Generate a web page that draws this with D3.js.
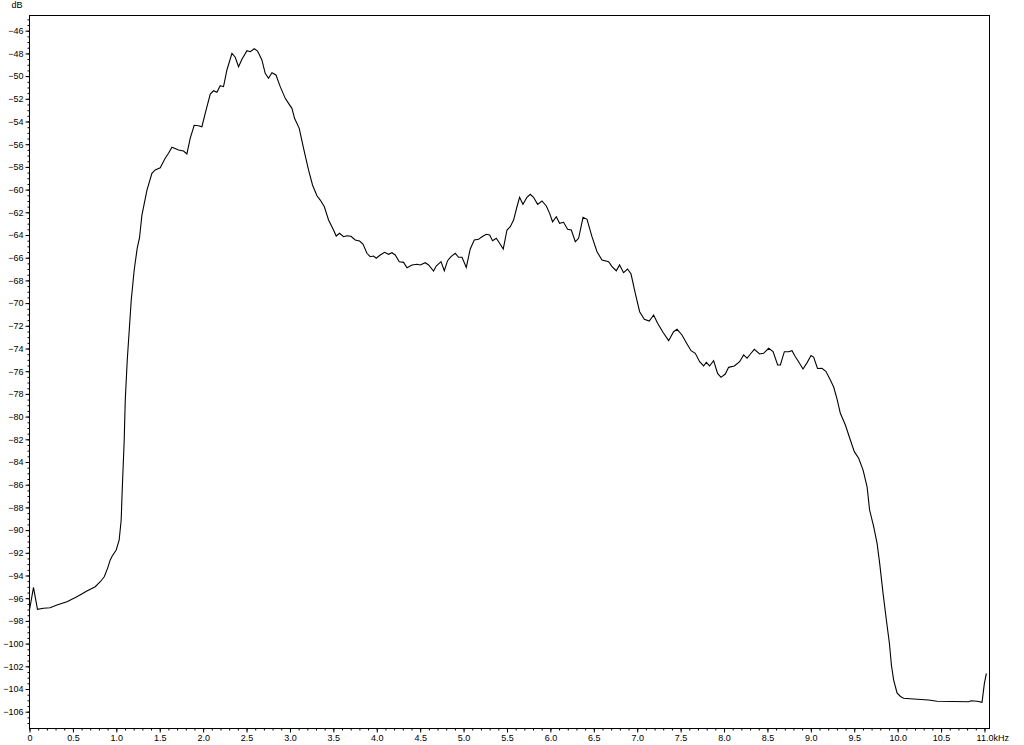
<!DOCTYPE html>
<html>
<head>
<meta charset="utf-8">
<script src="https://cdn.jsdelivr.net/npm/d3@7"></script>
<style>
  html, body { margin: 0; padding: 0; background: #fff; }
  svg text { font-family: "Liberation Sans", Arial, sans-serif; font-size: 9px; fill: #000; }
</style>
</head>
<body>
<div id="spectrum"></div>
<script>
// spectrum: frequency (kHz) and level (dB)
const freqKHz = [
  0, 0.046, 0.092, 0.161, 0.238, 0.316, 0.431, 0.546, 0.661, 0.757,
  0.815, 0.861, 0.899, 0.930, 0.953, 0.999, 1.033, 1.056, 1.068, 1.091,
  1.103, 1.126, 1.149, 1.172, 1.206, 1.241, 1.267, 1.295, 1.353, 1.410,
  1.448, 1.506, 1.563, 1.601, 1.641, 1.717, 1.774, 1.813, 1.851, 1.897,
  1.947, 1.986, 2.024, 2.082, 2.120, 2.159, 2.197, 2.235, 2.274, 2.332,
  2.370, 2.408, 2.447, 2.505, 2.543, 2.589, 2.627, 2.677, 2.715, 2.753,
  2.793, 2.839, 2.888, 2.946, 2.984, 3.023, 3.053, 3.107, 3.157, 3.214,
  3.260, 3.311, 3.349, 3.395, 3.445, 3.502, 3.533, 3.571, 3.618, 3.657,
  3.703, 3.752, 3.802, 3.841, 3.887, 3.925, 3.963, 3.994, 4.040, 4.090,
  4.136, 4.175, 4.213, 4.259, 4.309, 4.348, 4.406, 4.463, 4.501, 4.559,
  4.597, 4.654, 4.685, 4.740, 4.778, 4.816, 4.855, 4.904, 4.942, 4.982,
  5.031, 5.077, 5.123, 5.173, 5.212, 5.262, 5.300, 5.334, 5.377, 5.415,
  5.457, 5.500, 5.538, 5.576, 5.615, 5.645, 5.684, 5.730, 5.768, 5.806,
  5.853, 5.903, 5.953, 5.991, 6.025, 6.068, 6.106, 6.152, 6.198, 6.241,
  6.287, 6.325, 6.376, 6.422, 6.479, 6.537, 6.594, 6.671, 6.710, 6.759,
  6.797, 6.843, 6.889, 6.929, 6.978, 7.028, 7.082, 7.139, 7.189, 7.235,
  7.297, 7.362, 7.419, 7.459, 7.516, 7.566, 7.620, 7.669, 7.719, 7.765,
  7.796, 7.834, 7.880, 7.926, 7.965, 8.015, 8.053, 8.119, 8.180, 8.226,
  8.265, 8.311, 8.349, 8.410, 8.456, 8.514, 8.565, 8.618, 8.649, 8.695,
  8.744, 8.783, 8.822, 8.859, 8.910, 8.959, 9.002, 9.032, 9.077, 9.127,
  9.173, 9.225, 9.263, 9.302, 9.340, 9.398, 9.455, 9.501, 9.551, 9.602,
  9.648, 9.677, 9.724, 9.763, 9.793, 9.832, 9.870, 9.905, 9.928, 9.954,
  9.993, 10.032, 10.069, 10.184, 10.357, 10.454, 10.818, 10.846, 10.915, 10.972,
  10.999, 11.022
];
const levelDb = [
  -97.04, -95.04, -96.98, -96.89, -96.84, -96.60, -96.31, -95.87, -95.37, -94.99,
  -94.55, -94.11, -93.37, -92.63, -92.28, -91.75, -90.87, -89.11, -86.47, -82.06,
  -78.54, -75.01, -72.37, -69.73, -67.08, -65.15, -64.26, -62.24, -60.04, -58.56,
  -58.27, -58.07, -57.24, -56.80, -56.27, -56.51, -56.60, -56.86, -55.48, -54.33,
  -54.37, -54.46, -53.28, -51.58, -51.29, -51.43, -50.85, -50.93, -49.46, -47.99,
  -48.34, -49.17, -48.52, -47.76, -47.85, -47.59, -47.79, -48.58, -49.75, -50.19,
  -49.70, -49.90, -50.93, -51.96, -52.40, -52.84, -53.72, -54.60, -56.36, -58.27,
  -59.59, -60.54, -60.92, -61.49, -62.68, -63.56, -64.09, -63.85, -64.15, -64.06,
  -64.11, -64.44, -64.53, -64.79, -65.61, -65.91, -65.85, -66.05, -65.76, -65.52,
  -65.70, -65.56, -65.76, -66.35, -66.41, -66.88, -66.64, -66.58, -66.64, -66.44,
  -66.64, -67.17, -66.73, -66.35, -67.15, -66.26, -65.91, -65.61, -65.96, -65.96,
  -66.85, -65.23, -64.44, -64.38, -64.15, -63.94, -64.00, -64.50, -64.29, -64.73,
  -65.23, -63.56, -63.27, -62.68, -61.51, -60.68, -61.30, -60.68, -60.41, -60.68,
  -61.30, -61.00, -61.44, -62.09, -62.83, -62.39, -62.97, -62.88, -63.50, -63.56,
  -64.59, -64.29, -62.44, -62.62, -64.15, -65.47, -66.20, -66.35, -66.79, -67.15,
  -66.64, -67.32, -67.00, -67.44, -69.14, -70.76, -71.43, -71.58, -71.05, -71.78,
  -72.57, -73.31, -72.52, -72.31, -72.81, -73.49, -74.19, -74.42, -75.16, -75.54,
  -75.22, -75.54, -75.07, -76.19, -76.54, -76.25, -75.66, -75.54, -75.16, -74.57,
  -74.86, -74.42, -74.07, -74.48, -74.42, -73.98, -74.28, -75.45, -75.45, -74.28,
  -74.28, -74.19, -74.72, -75.16, -75.81, -75.22, -74.62, -74.75, -75.76, -75.74,
  -76.01, -76.78, -77.39, -78.45, -79.71, -80.74, -82.06, -83.09, -83.67, -84.71,
  -86.18, -88.23, -89.70, -91.16, -92.93, -95.57, -97.92, -99.97, -101.89, -103.21,
  -104.35, -104.66, -104.82, -104.88, -104.97, -105.08, -105.12, -105.03, -105.08, -105.17,
  -103.50, -102.62
];

// axis ticks
const xMajorTicks = d3.range(0, 11.01, 0.5);
const xMinorTicks = d3.range(0, 11.05, 0.1);
const yMajorTicks = d3.range(-106, -45, 2);
const yMinorTicks = d3.range(-107, -44.9, 0.5);

const points = freqKHz.map((f, i) => ({ f, db: levelDb[i] }));

// canvas
const W = 1024, H = 745;
const box = { left: 29.5, top: 15.5, right: 989.5, bottom: 728.5 };

const svg = d3.select("#spectrum")
  .append("svg")
    .attr("width", W)
    .attr("height", H)
    .style("display", "block");

// scales
const x = d3.scaleLinear().domain([0, 11.058]).range([box.left, box.right]);
const y = d3.scaleLinear().domain([-107.48, -44.66]).range([box.bottom, box.top]);

// frame
svg.append("rect")
  .attr("x", box.left)
  .attr("y", box.top)
  .attr("width", box.right - box.left)
  .attr("height", box.bottom - box.top)
  .attr("fill", "none")
  .attr("stroke", "#000")
  .attr("stroke-width", 1);

// x axis (major with labels, then minor ticks)
svg.append("g")
  .attr("transform", `translate(0,${box.bottom})`)
  .call(d3.axisBottom(x).tickValues(xMajorTicks).tickSize(4).tickPadding(2)
    .tickFormat(d => d === 0 ? "0" : d3.format(".1f")(d)));
svg.append("g")
  .attr("transform", `translate(0,${box.bottom})`)
  .call(d3.axisBottom(x).tickValues(xMinorTicks).tickSize(2).tickFormat(""));

// y axis
svg.append("g")
  .attr("transform", `translate(${box.left},0)`)
  .call(d3.axisLeft(y).tickValues(yMajorTicks).tickSize(4).tickPadding(2));
svg.append("g")
  .attr("transform", `translate(${box.left},0)`)
  .call(d3.axisLeft(y).tickValues(yMinorTicks).tickSize(2).tickFormat(""));

svg.selectAll(".domain").remove();
svg.selectAll(".tick line").attr("stroke", "#000");
svg.selectAll(".tick text").style("font-size", "9px").attr("fill", "#000");

// unit labels
svg.append("text")
  .attr("x", 17)
  .attr("y", 8)
  .attr("text-anchor", "middle")
  .text("dB");

svg.append("text")
  .attr("x", x(11.0) + 9)
  .attr("y", box.bottom + 6)
  .attr("dy", "0.71em")
  .text("kHz");

// spectrum line
const line = d3.line()
  .x(d => x(d.f))
  .y(d => y(d.db));

svg.append("path")
  .datum(points)
  .attr("d", line)
  .attr("fill", "none")
  .attr("stroke", "#000")
  .attr("stroke-width", 1.1);
</script>
</body>
</html>
